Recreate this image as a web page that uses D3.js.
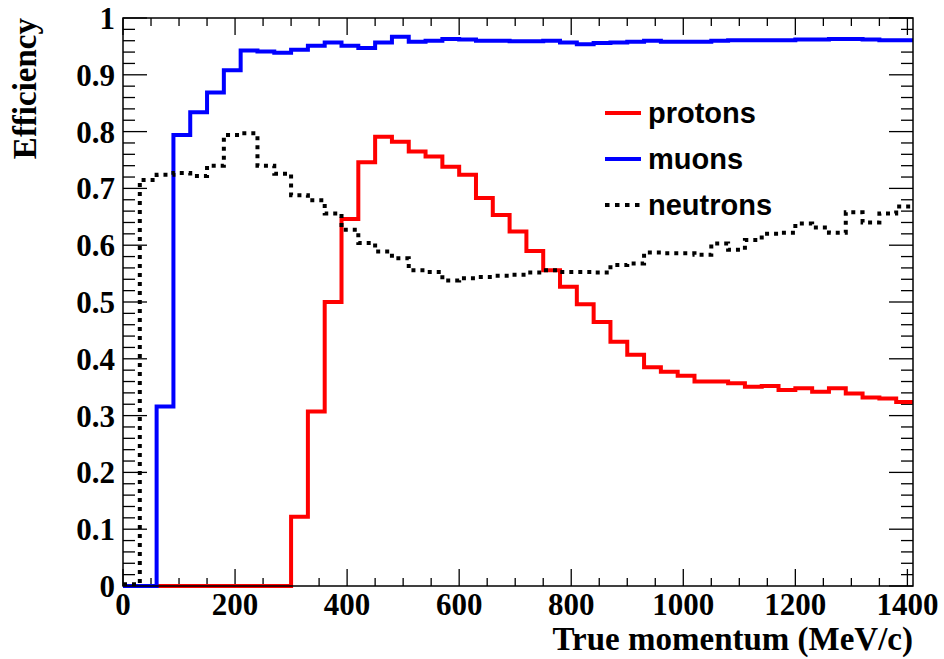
<!DOCTYPE html>
<html>
<head>
  <meta charset="utf-8">
  <script src="https://d3js.org/d3.v7.min.js"></script>
  <style>
    body { margin: 0; background: #fff; }
    .tick-label { font-family: "Liberation Serif", "Times New Roman", serif; font-weight: bold; font-size: 31px; }
    .axis-title { font-family: "Liberation Serif", "Times New Roman", serif; font-weight: bold; font-size: 33px; }
    .legend text { font-family: "Liberation Sans", Arial, sans-serif; font-weight: bold; font-size: 29px; }
  </style>
</head>
<body>
<script type="text/javascript">
  /*
    Histogram contents, one value per 30 MeV/c bin (0 - 1410 MeV/c)
  */
  var binWidth = 30;
  var binEdges = d3.range(0, 1410 + binWidth, binWidth);   // 48 edges, 47 bins

  var protons = [0, 0, 0, 0, 0, 0, 0, 0, 0, 0,
    0.122, 0.307, 0.500, 0.646, 0.746, 0.791, 0.782, 0.765, 0.756, 0.738,
    0.724, 0.683, 0.653, 0.624, 0.590, 0.556, 0.527, 0.496, 0.465, 0.430,
    0.407, 0.385, 0.377, 0.370, 0.360, 0.360, 0.357, 0.351, 0.352, 0.345,
    0.348, 0.342, 0.348, 0.339, 0.332, 0.330, 0.324];

  var muons = [0, 0, 0.316, 0.794, 0.834, 0.869, 0.908, 0.943, 0.941, 0.939,
    0.944, 0.951, 0.957, 0.951, 0.947, 0.957, 0.967, 0.958, 0.960, 0.963,
    0.962, 0.960, 0.960, 0.959, 0.959, 0.960, 0.957, 0.954, 0.956, 0.957,
    0.958, 0.960, 0.958, 0.958, 0.958, 0.960, 0.961, 0.961, 0.961, 0.961,
    0.962, 0.962, 0.963, 0.963, 0.962, 0.961, 0.961];

  var neutrons = [0.003, 0.715, 0.724, 0.727, 0.722, 0.740, 0.794, 0.797, 0.740, 0.726,
    0.688, 0.679, 0.656, 0.627, 0.604, 0.589, 0.577, 0.556, 0.553, 0.538,
    0.542, 0.544, 0.546, 0.548, 0.552, 0.556, 0.553, 0.553, 0.552, 0.565,
    0.568, 0.587, 0.586, 0.586, 0.583, 0.603, 0.592, 0.609, 0.620, 0.622,
    0.638, 0.631, 0.622, 0.658, 0.640, 0.656, 0.668];

  var xTickValues = [0, 200, 400, 600, 800, 1000, 1200, 1400];
  var yTickValues = [0, 0.1, 0.2, 0.3, 0.4, 0.5, 0.6, 0.7, 0.8, 0.9, 1];
  var yTickLabels = ["0", "0.1", "0.2", "0.3", "0.4", "0.5", "0.6", "0.7", "0.8", "0.9", "1"];

  var seriesNames = ["protons", "muons", "neutrons"];

  (function draw() {
    "use strict";

    /*
      Frame setup
    */
    var width = 944, height = 659;
    var frameL = 123, frameR = 913, frameT = 18, frameB = 586;

    var x = d3.scaleLinear().domain([0, 1410]).range([frameL, frameR]);
    var y = d3.scaleLinear().domain([0, 1]).range([frameB, frameT]);

    var svg = d3.select("body")
      .append("svg")
        .attr("width", width)
        .attr("height", height);

    svg.append("defs").append("clipPath")
        .attr("id", "frame-clip")
      .append("rect")
        .attr("x", frameL)
        .attr("y", frameT - 3)
        .attr("width", frameR - frameL)
        .attr("height", frameB - frameT + 6);

    var minorX = d3.range(0, 1401, 50);
    var minorY = d3.range(0, 51).map(function(i) { return i * 0.02; });

    var ticks = svg.append("g").attr("stroke", "#000").attr("stroke-width", 1.3);

    // bottom + top ticks
    minorX.forEach(function(v) {
      var len = (v % 200 === 0) ? 17 : 8;
      ticks.append("line").attr("x1", x(v)).attr("x2", x(v)).attr("y1", frameB).attr("y2", frameB - len);
      ticks.append("line").attr("x1", x(v)).attr("x2", x(v)).attr("y1", frameT).attr("y2", frameT + len);
    });
    // left + right ticks
    minorY.forEach(function(v, i) {
      var len = (i % 5 === 0) ? 24 : 12;
      ticks.append("line").attr("x1", frameL).attr("x2", frameL + len).attr("y1", y(v)).attr("y2", y(v));
      ticks.append("line").attr("x1", frameR).attr("x2", frameR - len).attr("y1", y(v)).attr("y2", y(v));
    });

    svg.selectAll(".xlab")
      .data(xTickValues)
      .enter().append("text")
        .attr("class", "tick-label xlab")
        .attr("x", function(d) { return x(d); })
        .attr("y", 615)
        .attr("text-anchor", "middle")
        .text(function(d) { return d; });

    svg.selectAll(".ylab")
      .data(yTickValues)
      .enter().append("text")
        .attr("class", "tick-label ylab")
        .attr("x", 115)
        .attr("y", function(d) { return y(d) + 11; })
        .attr("text-anchor", "end")
        .text(function(d, i) { return yTickLabels[i]; });

    svg.append("text")
        .attr("class", "axis-title")
        .attr("x", frameR)
        .attr("y", 650)
        .attr("text-anchor", "end")
        .text("True momentum (MeV/c)");

    svg.append("text")
        .attr("class", "axis-title")
        .attr("transform", "translate(36," + frameT + ") rotate(-90)")
        .attr("text-anchor", "end")
        .text("Efficiency");

    /*
      Histograms drawn as steps
    */
    var step = d3.line()
        .x(function(d) { return x(d[0]); })
        .y(function(d) { return y(d[1]); })
        .curve(d3.curveStepAfter);

    function histPoints(values) {
      var pts = values.map(function(v, i) { return [binEdges[i], v]; });
      pts.push([binEdges[values.length], values[values.length - 1]]);
      return pts;
    }

    var plot = svg.append("g").attr("clip-path", "url(#frame-clip)").attr("fill", "none");

    plot.append("path")
        .attr("d", step(histPoints(protons)))
        .attr("stroke", "#ff0000")
        .attr("stroke-width", 4);

    plot.append("path")
        .attr("d", step(histPoints(muons)))
        .attr("stroke", "#0000ff")
        .attr("stroke-width", 4);

    plot.append("path")
        .attr("d", step(histPoints(neutrons)))
        .attr("stroke", "#000")
        .attr("stroke-width", 4)
        .attr("stroke-dasharray", "4,5");

    // frame
    svg.append("rect")
        .attr("x", frameL)
        .attr("y", frameT)
        .attr("width", frameR - frameL)
        .attr("height", frameB - frameT)
        .attr("fill", "none")
        .attr("stroke", "#000")
        .attr("stroke-width", 1.5);

    /*
      Legend
    */
    var legend = svg.append("g")
        .attr("class", "legend")
        .selectAll("g")
        .data(seriesNames)
        .enter().append("g")
        .attr("transform", function(d, i) { return "translate(605," + (113 + i * 46) + ")"; });

    legend.append("line")
        .attr("x1", 0)
        .attr("x2", 36)
        .attr("stroke-width", 4)
        .attr("stroke", function(d) {
            if (d == "protons") return "#ff0000";
            if (d == "muons") return "#0000ff";
            return "#000";
        })
        .attr("stroke-dasharray", function(d) { return d == "neutrons" ? "4.5,5.5" : null; });

    legend.append("text")
        .attr("x", 43)
        .attr("y", 10)
        .text(function(d) { return d; });
  })();
</script>
</body>
</html>
